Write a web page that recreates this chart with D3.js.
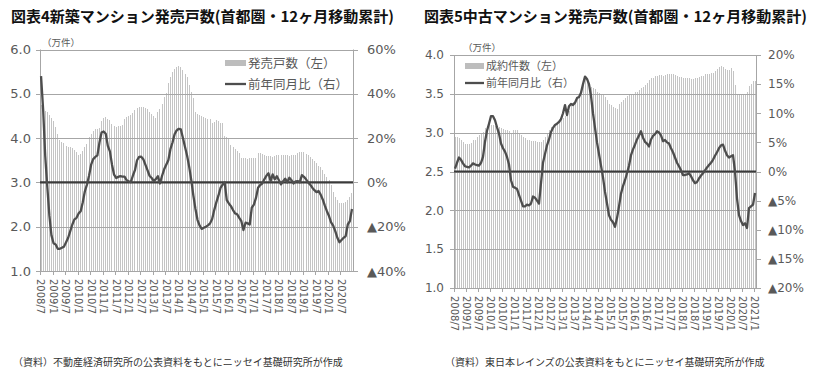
<!DOCTYPE html>
<html>
<head>
<meta charset="utf-8">
<style>
  body { margin: 0; background: #fff; }
  svg { display: block; font-family: "DejaVu Sans", "Noto Sans CJK JP", sans-serif; }
  .jp { font-family: "Noto Sans CJK JP", "DejaVu Sans", sans-serif; }
  .tick-label { fill: #595959; }
</style>
</head>
<body>
<svg width="817" height="373"></svg>
<script src="https://d3js.org/d3.v7.min.js"></script>
<script>
// 図表4: 新築マンション発売戸数 (万件), 2008/7 - 2020/12
const newSupply = [
  4.74, 4.70, 4.62, 4.58, 4.52, 4.45, 4.38, 4.24, 4.10, 3.96, 3.92, 3.88,
  3.82, 3.80, 3.80, 3.78, 3.74, 3.69, 3.62, 3.64, 3.72, 3.80, 3.86, 4.03,
  4.10, 4.15, 4.20, 4.21, 4.22, 4.38, 4.45, 4.47, 4.44, 4.40, 4.32, 4.28,
  4.26, 4.27, 4.28, 4.30, 4.42, 4.47, 4.50, 4.53, 4.56, 4.64, 4.68, 4.71,
  4.71, 4.70, 4.68, 4.65, 4.60, 4.54, 4.50, 4.45, 4.58, 4.66, 4.78, 4.92,
  5.02, 5.25, 5.38, 5.50, 5.56, 5.60, 5.63, 5.60, 5.54, 5.45, 5.39, 5.20,
  5.05, 4.90, 4.60, 4.54, 4.52, 4.50, 4.47, 4.45, 4.44, 4.42, 4.35, 4.36,
  4.41, 4.38, 4.35, 4.33, 4.05, 4.03, 4.00, 3.85, 3.79, 3.75, 3.70, 3.66,
  3.56, 3.54, 3.54, 3.53, 3.54, 3.54, 3.55, 3.54, 3.67, 3.66, 3.64, 3.62,
  3.60, 3.59, 3.59, 3.58, 3.60, 3.62, 3.62, 3.62, 3.61, 3.62, 3.61, 3.60,
  3.61, 3.62, 3.62, 3.66, 3.69, 3.69, 3.68, 3.65, 3.62, 3.58, 3.52, 3.48,
  3.43, 3.38, 3.35, 3.27, 3.20, 3.13, 3.05, 2.95, 2.79, 2.68, 2.60, 2.53,
  2.53, 2.53, 2.56, 2.60, 2.68, 2.75
];
// 前年同月比 (%)
const newYoY = [
  48, 33, 12, -2, -15, -24, -27.5, -28, -30, -30, -29.5, -29,
  -27, -25, -22, -19, -16.7, -16, -14, -13, -9, -4, -1, 3,
  8, 10.5, 11.5, 12.2, 18, 22.5, 23, 22, 16.5, 14, 8, 3.5,
  2, 2.5, 2.8, 2.6, 2.6, 1, 0.5, 0.1, 3, 5.5, 10, 11.5,
  11.6, 10.5, 8, 5.5, 3, 2, 0.6, 1.5, 2.8, -0.5, 3, 5.9,
  8, 10, 15, 18, 21.7, 23.5, 24.2, 23.9, 20, 16, 12, 7,
  1, -6, -12, -17, -19.5, -21, -20.5, -20, -19.4, -18.5, -16.5, -12.5,
  -9, -6, -2.5, -1, 0, -8, -9.5, -10.7, -12.5, -14, -14.4, -16,
  -17.5, -21.5, -18.2, -18.5, -19, -11.4, -10, -7, -2.4, -1.2, -0.5, 1.4,
  3, 4.1, 0.6, 3.6, 1.4, 2.8, 1, -0.9, 0.5, 1.7, 0, 2.1,
  1, -0.5, 0.5, 0.6, 0, 3.3, 2.5, 1.4, 0, -1, -2.4, -3.5,
  -4.4, -3.9, -5.5, -7.7, -10.5, -13, -15.2, -18, -19.5, -22, -25, -27,
  -26, -25, -24.2, -19, -17.5, -12
];
const newTickLabels = [
  "2008/7", "2009/1", "2009/7", "2010/1", "2010/7", "2011/1", "2011/7", "2012/1", "2012/7",
  "2013/1", "2013/7", "2014/1", "2014/7", "2015/1", "2015/7", "2016/1", "2016/7", "2017/1",
  "2017/7", "2018/1", "2018/7", "2019/1", "2019/7", "2020/1", "2020/7"
];
const newLeftTicks = [1, 2, 3, 4, 5, 6];
const newRightTicks = [-40, -20, 0, 20, 40, 60];

// 図表5: 中古マンション成約件数 (万件), 2008/7 - 2021/1
const usedSales = [
  2.94, 2.94, 2.93, 2.90, 2.88, 2.86, 2.85, 2.85, 2.87, 2.90, 2.91, 2.94,
  2.97, 2.99, 3.01, 3.06, 3.09, 3.10, 3.10, 3.10, 3.09, 3.08, 3.07, 3.06,
  3.05, 3.04, 3.03, 3.02, 3.00, 3.04, 3.04, 3.03, 3.00, 2.97, 2.95, 2.93,
  2.91, 2.90, 2.89, 2.89, 2.89, 2.88, 2.88, 2.88, 2.91, 2.95, 3.00, 3.03,
  3.07, 3.09, 3.11, 3.13, 3.14, 3.17, 3.19, 3.22, 3.25, 3.28, 3.35, 3.39,
  3.42, 3.45, 3.48, 3.56, 3.62, 3.70, 3.66, 3.62, 3.59, 3.57, 3.56, 3.53,
  3.51, 3.50, 3.49, 3.46, 3.42, 3.37, 3.35, 3.33, 3.32, 3.31, 3.37, 3.40,
  3.42, 3.45, 3.47, 3.48, 3.48, 3.49, 3.52, 3.53, 3.55, 3.57, 3.59, 3.61,
  3.64, 3.68, 3.70, 3.71, 3.73, 3.73, 3.74, 3.74, 3.73, 3.74, 3.75, 3.76,
  3.76, 3.75, 3.74, 3.73, 3.72, 3.72, 3.71, 3.71, 3.70, 3.70, 3.69, 3.69,
  3.70, 3.71, 3.72, 3.73, 3.73, 3.75, 3.75, 3.76, 3.77, 3.77, 3.80, 3.82,
  3.84, 3.86, 3.84, 3.82, 3.81, 3.81, 3.83, 3.80, 3.62, 3.50, 3.48, 3.48,
  3.48, 3.49, 3.52, 3.60, 3.63, 3.66, 3.66
];
const usedYoY = [
  0.5, 1.5, 2.4, 2.0, 1.4, 0.9, 0.8, 0.7, 1.0, 1.4, 1.2, 1.1,
  1.0, 1.5, 2.5, 5.1, 7.0, 8.2, 9.5, 9.5, 8.8, 7.6, 6.5, 4.8,
  4.0, 3.4, 2.5, 1.2, -1.5, -2.6, -2.8, -3.0, -4.0, -5.0, -6.0, -6.0,
  -5.7, -5.8, -5.5, -4.3, -4.5, -5.0, -5.5, -2.0, 1.5, 3.0, 4.5, 5.5,
  6.8, 7.5, 8.0, 8.2, 8.5, 9.0, 10.0, 11.4, 9.7, 11.2, 11.6, 11.4,
  11.8, 12.6, 12.8, 13.5, 15.0, 16.3, 15.9, 15.0, 13.0, 10.0, 7.5, 5.0,
  3.0, 1.0, -1.0, -3.5, -5.5, -7.5, -8.3, -8.7, -9.5, -8.0, -6.0, -3.8,
  -2.5, -1.5, -0.3, 1.0, 2.8, 3.8, 4.6, 5.5, 6.2, 6.9, 5.8, 5.1,
  4.8, 4.3, 5.5, 6.1, 6.4, 6.9, 6.7, 6.2, 5.2, 5.4, 5.0, 4.8,
  4.0, 3.3, 2.4, 1.5, 0.9, 0.2, -0.6, -0.6, -0.5, -0.3, -0.8, -1.5,
  -2.0, -1.8, -1.2, -0.7, -0.3, 0.2, 0.7, 1.1, 1.5, 2.0, 2.7, 3.3,
  4.0, 4.5, 4.6, 3.6, 2.8, 2.4, 2.6, 2.8, 0.0, -4.6, -7.5, -8.5,
  -9.2, -8.9, -9.7, -6.3, -6.0, -5.7, -3.7
];
const usedTickLabels = [
  "2008/7", "2009/1", "2009/7", "2010/1", "2010/7", "2011/1", "2011/7", "2012/1", "2012/7",
  "2013/1", "2013/7", "2014/1", "2014/7", "2015/1", "2015/7", "2016/1", "2016/7", "2017/1",
  "2017/7", "2018/1", "2018/7", "2019/1", "2019/7", "2020/1", "2020/7", "2021/1"
];
const usedLeftTicks = [1, 1.5, 2, 2.5, 3, 3.5, 4];
const usedRightTicks = [-20, -15, -10, -5, 0, 5, 10, 15, 20];

let svg = d3.select("svg")

const pctFmt = d => (d < 0 ? "▲" + Math.abs(d) : d) + "%"
const gridColor = "#a6a6a6"
const barColor = "#c4c4c4"
const lineColor = "#4d4d4d"

function drawPanel(p) {
    let g = svg.append("g")

    let x = d3.scaleBand()
        .domain(d3.range(p.bars.length))
        .range([p.left, p.right])
        .paddingInner(0.38)
        .paddingOuter(0.19)

    let y = d3.scaleLinear()
        .domain(d3.extent(p.leftTicks))
        .range([p.bottom, p.top])

    let y2 = d3.scaleLinear()
        .domain(d3.extent(p.rightTicks))
        .range([p.bottom, p.top])

    // bars: 1px wide, snapped to pixels so the white gaps show
    g.append("g")
        .attr("shape-rendering", "crispEdges")
        .selectAll("rect")
        .data(p.bars)
        .join("rect")
        .attr("x", (d, i) => Math.round(x(i) + x.bandwidth() / 2 - 0.5))
        .attr("y", d => y(d))
        .attr("width", 1)
        .attr("height", d => p.bottom - y(d))
        .attr("fill", barColor)

    // gridlines (left axis)
    g.append("g")
        .selectAll("line")
        .data(p.leftTicks)
        .join("line")
        .attr("x1", p.left - 4)
        .attr("x2", p.right)
        .attr("y1", d => Math.round(y(d)) + 0.5)
        .attr("y2", d => Math.round(y(d)) + 0.5)
        .attr("stroke", gridColor)
        .attr("stroke-width", 1)

    // left axis
    g.append("line")
        .attr("x1", p.left + 0.5).attr("x2", p.left + 0.5)
        .attr("y1", p.top).attr("y2", p.bottom + 4)
        .attr("stroke", gridColor)

    g.append("g")
        .selectAll("text")
        .data(p.leftTicks)
        .join("text")
        .attr("class", "tick-label")
        .attr("x", p.left - p.leftPad)
        .attr("y", d => y(d))
        .attr("dy", "0.36em")
        .attr("text-anchor", "end")
        .style("font-size", p.fontSize + "px")
        .text(d3.format(".1f"))

    // right axis
    g.append("line")
        .attr("x1", p.right + 0.5).attr("x2", p.right + 0.5)
        .attr("y1", p.top).attr("y2", p.bottom)
        .attr("stroke", gridColor)

    g.append("g")
        .selectAll("line")
        .data(p.rightTicks)
        .join("line")
        .attr("x1", p.right)
        .attr("x2", p.right + 5)
        .attr("y1", d => Math.round(y2(d)) + 0.5)
        .attr("y2", d => Math.round(y2(d)) + 0.5)
        .attr("stroke", gridColor)

    g.append("g")
        .selectAll("text")
        .data(p.rightTicks)
        .join("text")
        .attr("class", "tick-label")
        .attr("x", p.right + p.rightPad)
        .attr("y", d => y2(d))
        .attr("dy", "0.36em")
        .style("font-size", p.fontSize + "px")
        .text(pctFmt)

    // x axis ticks + labels
    let tickIdx = d3.range(0, p.bars.length, 6)
    g.append("g")
        .selectAll("line")
        .data(tickIdx)
        .join("line")
        .attr("x1", i => Math.round(x(i) - x.step() * 0.19) + 0.5)
        .attr("x2", i => Math.round(x(i) - x.step() * 0.19) + 0.5)
        .attr("y1", p.bottom)
        .attr("y2", p.bottom + 4)
        .attr("stroke", gridColor)

    g.append("g")
        .selectAll("text")
        .data(tickIdx)
        .join("text")
        .attr("class", "tick-label")
        .attr("transform", i => `translate(${x(i) + x.bandwidth() / 2},${p.bottom + p.xLabelGap}) rotate(90)`)
        .attr("dy", "0.36em")
        .style("font-size", p.xFontSize + "px")
        .text((i, k) => p.tickLabels[k])

    // 0% line
    g.append("line")
        .attr("x1", p.left).attr("x2", p.right)
        .attr("y1", y2(0)).attr("y2", y2(0))
        .attr("stroke", "#3a3a3a")
        .attr("stroke-width", 2.2)

    // YoY line
    let line = d3.line()
        .x((d, i) => x(i) + x.bandwidth() / 2)
        .y(d => y2(d))

    g.append("path")
        .datum(p.yoy)
        .attr("d", line)
        .attr("fill", "none")
        .attr("stroke", lineColor)
        .attr("stroke-width", 2.3)
        .attr("stroke-linejoin", "round")

    // title
    g.append("text")
        .attr("class", "jp")
        .attr("x", p.titleX)
        .attr("y", 22)
        .style("font-size", "15px")
        .style("font-weight", p.titleWeight)
        .style("fill", "#111")
        .text(p.title)

    // unit
    g.append("text")
        .attr("class", "jp")
        .attr("x", p.unitX)
        .attr("y", p.top - 4)
        .style("font-size", "9.5px")
        .style("fill", "#595959")
        .text("（万件）")

    // legend
    let lg = g.append("g").attr("transform", `translate(${p.legendX},${p.legendY})`)
    lg.append("rect")
        .attr("x", 0).attr("y", -3)
        .attr("width", p.swatchW).attr("height", 6)
        .attr("fill", "#bdbdbd")
    lg.append("text")
        .attr("class", "jp")
        .attr("x", p.swatchW + 2).attr("dy", "0.36em")
        .style("font-size", p.legendSize + "px")
        .style("fill", "#595959")
        .text(p.barName)
    lg.append("line")
        .attr("x1", 0).attr("x2", p.swatchW)
        .attr("y1", p.legendGap).attr("y2", p.legendGap)
        .attr("stroke", lineColor).attr("stroke-width", 2.3)
    lg.append("text")
        .attr("class", "jp")
        .attr("x", p.swatchW + 2).attr("y", p.legendGap).attr("dy", "0.36em")
        .style("font-size", p.legendSize + "px")
        .style("fill", "#595959")
        .text("前年同月比（右）")

    // source
    g.append("text")
        .attr("class", "jp")
        .attr("x", p.sourceX)
        .attr("y", 366)
        .style("font-size", "10px")
        .style("fill", "#333")
        .text(p.source)
}

drawPanel({
    bars: newSupply, yoy: newYoY,
    leftTicks: newLeftTicks, rightTicks: newRightTicks, tickLabels: newTickLabels,
    left: 40, right: 353, top: 49.5, bottom: 271,
    fontSize: 13, xFontSize: 10, leftPad: 9, rightPad: 14, xLabelGap: 8,
    title: "図表4新築マンション発売戸数(首都圏・12ヶ月移動累計)", titleX: 11, titleWeight: 700,
    unitX: 42,
    legendX: 225, legendY: 63, legendGap: 21, swatchW: 21, legendSize: 12.5,
    barName: "発売戸数（左）",
    source: "（資料）不動産経済研究所の公表資料をもとにニッセイ基礎研究所が作成", sourceX: 13
})

drawPanel({
    bars: usedSales, yoy: usedYoY,
    leftTicks: usedLeftTicks, rightTicks: usedRightTicks, tickLabels: usedTickLabels,
    left: 454, right: 756, top: 55, bottom: 288,
    fontSize: 12, xFontSize: 10, leftPad: 10, rightPad: 12, xLabelGap: 8,
    title: "図表5中古マンション発売戸数(首都圏・12ヶ月移動累計)", titleX: 424, titleWeight: 600,
    unitX: 463,
    legendX: 465, legendY: 66, legendGap: 17, swatchW: 19, legendSize: 11,
    barName: "成約件数（左）",
    source: "（資料）東日本レインズの公表資料をもとにニッセイ基礎研究所が作成", sourceX: 445
})
</script>
</body>
</html>
